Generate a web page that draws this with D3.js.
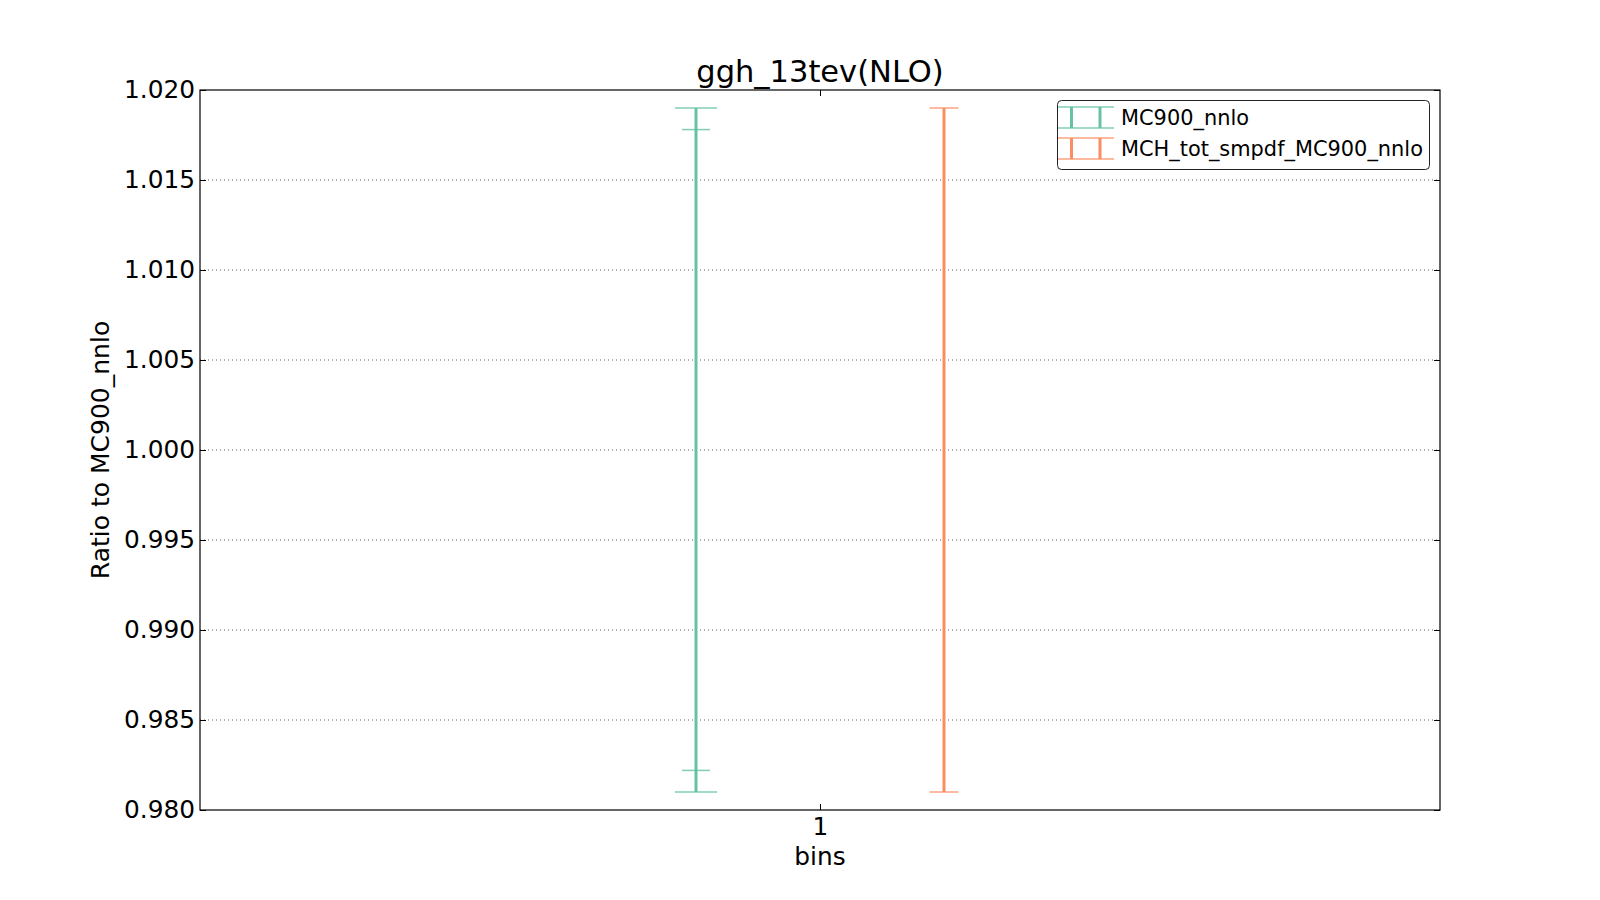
<!DOCTYPE html>
<html>
<head>
<meta charset="utf-8">
<script src="https://cdn.jsdelivr.net/npm/d3@7"></script>
<style>
  html, body { margin: 0; padding: 0; background: #fff; }
  svg { display: block; font-family: "DejaVu Sans", sans-serif; }
</style>
</head>
<body>
<svg id="chart" width="1600" height="900"></svg>
<script>
// ---- data ----
const chartTitle = "ggh_13tev(NLO)";
const xLabel = "bins";
const yLabel = "Ratio to MC900_nnlo";
const categories = [1];
const xTickLabels = ["1"];
const seriesNames = ["MC900_nnlo", "MCH_tot_smpdf_MC900_nnlo"];
const outerHigh = [1.019, 1.019];
const outerLow = [0.981, 0.981];
const innerHigh = [1.0178, null];
const innerLow = [0.9822, null];
const yTicks = [0.980, 0.985, 0.990, 0.995, 1.000, 1.005, 1.010, 1.015, 1.020];

// ---- style ----
const colors = ["#66c2a5", "#fc8d62"];
const xOffsets = [-0.1, 0.1];
const outerCapHalf = [21, 14.5];
const innerCapHalf = [14, 0];

const M = { left: 200, right: 1440, top: 90, bottom: 810 };
const svg = d3.select("#chart");

const x = d3.scaleLinear().domain([0.5, 1.5]).range([M.left, M.right]);
const y = d3.scaleLinear().domain([0.98, 1.02]).range([M.bottom, M.top]);

// grid
svg.append("g").selectAll("line").data(yTicks.slice(1, -1)).join("line")
  .attr("x1", M.left).attr("x2", M.right)
  .attr("y1", d => y(d)).attr("y2", d => y(d))
  .attr("stroke", "#000").attr("stroke-width", 0.8)
  .attr("stroke-dasharray", "1,3").attr("opacity", 0.8);

// axes (ticks inward)
const fmt = d3.format(".3f");
const gl = svg.append("g").attr("transform", `translate(${M.left},0)`)
  .call(d3.axisLeft(y).tickValues(yTicks).tickFormat(fmt).tickSizeInner(-6).tickSizeOuter(0).tickPadding(5));
const gr = svg.append("g").attr("transform", `translate(${M.right},0)`)
  .call(d3.axisRight(y).tickValues(yTicks).tickFormat("").tickSizeInner(-6).tickSizeOuter(0));
const gb = svg.append("g").attr("transform", `translate(0,${M.bottom})`)
  .call(d3.axisBottom(x).tickValues(categories).tickFormat((d, i) => xTickLabels[i]).tickSizeInner(-6).tickSizeOuter(0).tickPadding(7));
const gt = svg.append("g").attr("transform", `translate(0,${M.top})`)
  .call(d3.axisTop(x).tickValues(categories).tickFormat("").tickSizeInner(-6).tickSizeOuter(0));
[gl, gr, gb, gt].forEach(g => {
  g.select(".domain").remove();
  g.selectAll("text").attr("font-size", 24.8).attr("fill", "#000").attr("font-family", "DejaVu Sans");
  g.selectAll("line").attr("stroke", "#000");
});

// frame
svg.append("rect").attr("x", M.left).attr("y", M.top)
  .attr("width", M.right - M.left).attr("height", M.bottom - M.top)
  .attr("fill", "none").attr("stroke", "#000").attr("stroke-width", 1.2);

// error bars
const gE = svg.append("g");
seriesNames.forEach((name, i) => {
  const cx = x(categories[0] + xOffsets[i]);
  const c = colors[i];
  gE.append("line").attr("x1", cx).attr("x2", cx)
    .attr("y1", y(outerLow[i])).attr("y2", y(outerHigh[i]))
    .attr("stroke", c).attr("stroke-width", 3);
  [outerLow[i], outerHigh[i]].forEach(v => {
    gE.append("line").attr("x1", cx - outerCapHalf[i]).attr("x2", cx + outerCapHalf[i])
      .attr("y1", y(v)).attr("y2", y(v))
      .attr("stroke", c).attr("stroke-width", 1.5).attr("opacity", 0.8);
  });
  if (innerHigh[i] !== null) {
    [innerLow[i], innerHigh[i]].forEach(v => {
      gE.append("line").attr("x1", cx - innerCapHalf[i]).attr("x2", cx + innerCapHalf[i])
        .attr("y1", y(v)).attr("y2", y(v))
        .attr("stroke", c).attr("stroke-width", 1.5).attr("opacity", 0.8);
    });
  }
});

// title & labels
svg.append("text").attr("x", (M.left + M.right) / 2).attr("y", 82)
  .attr("text-anchor", "middle").attr("font-size", 30.5).text(chartTitle);
svg.append("text").attr("x", (M.left + M.right) / 2).attr("y", 865)
  .attr("text-anchor", "middle").attr("font-size", 24.8).text(xLabel);
svg.append("text").attr("transform", `translate(109,${(M.top + M.bottom) / 2}) rotate(-90)`)
  .attr("text-anchor", "middle").attr("font-size", 25).text(yLabel);

// legend
const lg = svg.append("g");
lg.append("rect").attr("x", 1057.5).attr("y", 100.5).attr("width", 372).attr("height", 69)
  .attr("rx", 4).attr("fill", "#fff").attr("stroke", "#222").attr("stroke-width", 1);
seriesNames.forEach((name, i) => {
  const yTop = 107 + i * 31, yBot = 128 + i * 31;
  const c = colors[i];
  [yTop, yBot].forEach(yy => {
    lg.append("line").attr("x1", 1058).attr("x2", 1114).attr("y1", yy).attr("y2", yy)
      .attr("stroke", c).attr("stroke-width", 1.5).attr("opacity", 0.8);
  });
  [1071.5, 1100].forEach(xx => {
    lg.append("line").attr("x1", xx).attr("x2", xx).attr("y1", yTop).attr("y2", yBot)
      .attr("stroke", c).attr("stroke-width", 3);
  });
  lg.append("text").attr("x", 1121).attr("y", 125 + i * 31)
    .attr("font-size", 20.9).text(name);
});
</script>
</body>
</html>
